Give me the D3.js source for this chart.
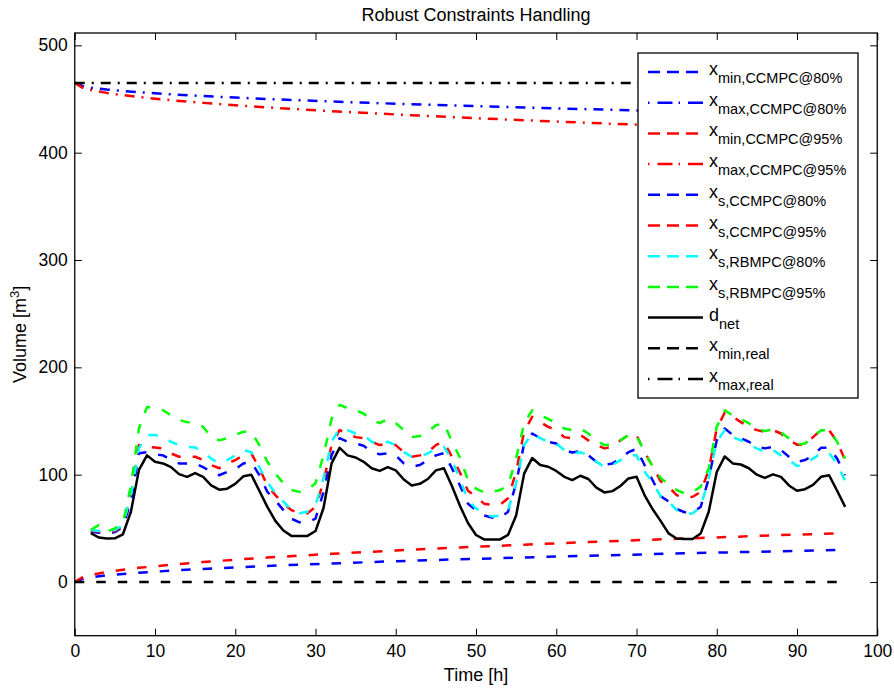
<!DOCTYPE html>
<html>
<head>
<meta charset="utf-8">
<script src="https://cdnjs.cloudflare.com/ajax/libs/d3/7.8.5/d3.min.js"></script>
<style>
body { margin: 0; background: #fff; }
svg text { font-family: "Liberation Sans", Arial, Helvetica, sans-serif; fill: #000; }
.tick line { stroke: #000; stroke-width: 1; }
</style>
</head>
<body>
<div id="chart"></div>
<script>

//Data

// hourly samples of the simulated trajectories
var hours = d3.range(2, 97);

var dNet = [45.5, 41.5, 40.5, 40.7, 44.5, 65.5, 104.5, 118, 112, 110.5, 107, 100.5,
  98, 101.5, 98, 90, 86, 87, 91.5, 98.5, 100, 85, 70, 57,
  48, 43, 43, 43, 47.5, 69, 110.5, 125, 118, 116, 112, 106,
  103.5, 107, 104, 95.5, 90, 91.5, 96, 104, 106, 89.5, 71, 55,
  43.8, 39.7, 39.7, 39.7, 44, 62, 101, 115.5, 109, 107.4, 103.5, 98,
  95, 99, 96, 88, 83.5, 84.7, 89.5, 96.5, 98, 81, 68, 57,
  45.3, 40.5, 40, 40, 45.3, 65.5, 102.5, 117, 110.5, 109.5, 106, 100,
  97, 100.3, 98, 90, 85, 86.5, 90.5, 98, 99.5, 85, 70];

var xsRB95 = [48.7, 53, 47, 50, 54.6, 90, 143, 163, 162, 160, 155.5, 151,
  149, 148, 144.6, 135, 132, 134, 137, 140, 140, 127.6, 112, 101,
  92, 85.7, 84, 85.7, 92, 118, 152, 165, 162, 160, 157, 151,
  148, 152, 148, 141.5, 135, 136, 140, 146, 148, 130.7, 116, 95,
  87, 83.5, 84, 85.7, 90, 115, 148, 160, 155.5, 152, 148, 143,
  141.5, 143, 138.4, 132, 127.6, 127.6, 132, 137, 137, 121, 108, 97,
  91, 85.7, 82.6, 84, 88.8, 105.8, 144.6, 160, 155, 151.8, 148, 143,
  140.6, 142.5, 139.4, 133.8, 128, 129, 135, 141.5, 141.5, 130.7, 115];

var xsCC95 = [47.5, 47, 46.5, 47.5, 53, 81, 127.6, 126, 125.4, 124.5, 119.8, 116.7,
  116.7, 116.7, 113.6, 109, 106, 110.5, 113.6, 118, 119.8, 106, 90, 81,
  73, 67, 64, 64, 70, 93.4, 127.6, 141.5, 138.4, 135, 134, 130.7,
  127.6, 129, 127.6, 121, 116.7, 118, 121, 127.6, 130.7, 116.7, 102, 85,
  79.5, 73, 72, 72, 78, 102.7, 140, 154, 149, 144.6, 141.5, 135,
  134, 137, 132, 127.6, 124.5, 126, 132, 137, 137, 121, 108, 94,
  88.8, 81, 78.5, 79.5, 84, 104.3, 143, 158, 154, 149, 144.6, 141.5,
  140, 141.5, 138.4, 132, 128, 128, 135, 141.5, 141.5, 130.7, 113.6];

var xsRB80 = [48.4, 47.5, 47.5, 48.5, 53, 81, 124.5, 137, 137, 135, 130.6, 127.6,
  126, 125.4, 121, 115, 110.5, 113.6, 118, 123, 121, 107, 93, 83,
  75, 67, 64, 65.5, 71.7, 96.5, 130.7, 143, 141.5, 138.4, 137, 130.7,
  127.6, 130.7, 127.6, 121, 116.7, 116.7, 119.8, 124.5, 126, 113.6, 96, 76,
  68.6, 64, 61, 62, 67, 92, 127.6, 138.4, 134, 130.7, 129, 123,
  119.8, 121, 118, 112, 107.4, 109, 113.6, 118, 118, 102.7, 93, 80,
  75, 67, 63, 64, 70, 96.5, 130.7, 141.5, 135, 132, 128, 124.5,
  121, 123, 118, 113.6, 108, 109.6, 115, 120, 120, 110.5, 94];

var xsCC80 = [47, 46, 45, 46.5, 51.5, 75, 120, 121, 119, 118, 113.6, 110.5,
  110.5, 110.5, 107, 102.6, 99.5, 102.6, 105, 110.5, 112, 99.5, 84, 76,
  67, 59, 55.6, 55.6, 59, 84, 118, 134, 130.7, 129, 127, 121,
  119, 120, 118, 110.5, 107.4, 109, 113.6, 118, 120, 106, 90, 73,
  67, 62, 60, 60, 65.5, 92, 129, 138.4, 134, 130.7, 129, 123,
  120.7, 122, 118, 112, 109, 110.5, 115, 121, 124, 109, 95, 80,
  75, 68, 65, 65, 70, 96.5, 132, 143, 137, 134, 130.7, 126,
  124.5, 126, 123, 116.7, 112, 113.6, 118, 125, 125, 115, 99.6];

// constraint bounds, sampled more sparsely
var boundHours = [0, 1, 2, 4, 6, 8, 12, 16, 20, 24, 32, 40, 48, 56, 64, 72, 80, 88, 96];
var xMinCC80 = [0, 3, 4.5, 6.2, 7.5, 8.7, 10.6, 12.2, 13.7, 15, 17.3, 19.4, 21.2, 22.9, 24.5, 26, 27.4, 28.7, 30];
var xMaxCC80 = [465, 462, 460.5, 458.8, 457.5, 456.3, 454.4, 452.8, 451.3, 450, 447.7, 445.6, 443.8, 442.1, 440.5, 439, 437.6, 436.3, 435];
var xMinCC95 = [0, 4.6, 6.6, 9.3, 11.4, 13.2, 16.1, 18.6, 20.8, 22.8, 26.3, 29.4, 32.2, 34.8, 37.2, 39.5, 41.6, 43.7, 45.6];
var xMaxCC95 = [465, 460.4, 458.4, 455.7, 453.6, 451.8, 448.9, 446.4, 444.2, 442.2, 438.7, 435.6, 432.8, 430.2, 427.8, 425.5, 423.4, 421.3, 419.4];
var realHours = [0, 96];
var xMinReal = [0, 0];
var xMaxReal = [465, 465];

var xTicks = [0, 10, 20, 30, 40, 50, 60, 70, 80, 90, 100];
var yTicks = [0, 100, 200, 300, 400, 500];

//Layout
var width = 894, height = 689;
var plot = {left: 74.75, right: 877.25, top: 33, bottom: 635.7};

var svg = d3.select("#chart").append("svg")
    .attr("width", width)
    .attr("height", height);

var x = d3.scaleLinear().domain([0, 100]).range([plot.left, plot.right]);
var y = d3.scaleLinear().domain([-50, 511.5]).range([plot.bottom, plot.top]);

var dashed = "9.5,12";
var dashdot = "10,7,2,7";

function pairs(xs, ys) {
  return xs.map(function(t, i) { return [t, ys[i]]; });
}

// legend order = drawing order
var series = [
  {sub: "min,CCMPC@80%", main: "x", color: "#0000ff", dash: dashed, pts: pairs(boundHours, xMinCC80)},
  {sub: "max,CCMPC@80%", main: "x", color: "#0000ff", dash: dashdot, pts: pairs(boundHours, xMaxCC80)},
  {sub: "min,CCMPC@95%", main: "x", color: "#ff0000", dash: dashed, pts: pairs(boundHours, xMinCC95)},
  {sub: "max,CCMPC@95%", main: "x", color: "#ff0000", dash: dashdot, pts: pairs(boundHours, xMaxCC95)},
  {sub: "s,CCMPC@80%", main: "x", color: "#0000ff", dash: dashed, pts: pairs(hours, xsCC80)},
  {sub: "s,CCMPC@95%", main: "x", color: "#ff0000", dash: dashed, pts: pairs(hours, xsCC95)},
  {sub: "s,RBMPC@80%", main: "x", color: "#00ffff", dash: dashed, pts: pairs(hours, xsRB80)},
  {sub: "s,RBMPC@95%", main: "x", color: "#00ff00", dash: dashed, pts: pairs(hours, xsRB95)},
  {sub: "net", main: "d", color: "#000000", dash: null, pts: pairs(hours, dNet)},
  {sub: "min,real", main: "x", color: "#000000", dash: dashed, pts: pairs(realHours, xMinReal)},
  {sub: "max,real", main: "x", color: "#000000", dash: dashdot, pts: pairs(realHours, xMaxReal)}
];

var line = d3.line()
    .x(function(d) { return x(d[0]); })
    .y(function(d) { return y(d[1]); });

svg.append("defs").append("clipPath").attr("id", "clip")
  .append("rect")
    .attr("x", plot.left).attr("y", plot.top)
    .attr("width", plot.right - plot.left)
    .attr("height", plot.bottom - plot.top);

var lines = svg.append("g").attr("clip-path", "url(#clip)");
series.forEach(function(s) {
  lines.append("path")
      .attr("d", line(s.pts))
      .attr("fill", "none")
      .attr("stroke", s.color)
      .attr("stroke-width", 2.5)
      .attr("stroke-dasharray", s.dash)
      .attr("stroke-linejoin", "round");
});

//Axes, ticks pointing inwards on all four sides
var fontSize = 17.5;
svg.append("g")
    .attr("transform", "translate(0," + plot.bottom + ")")
    .call(d3.axisBottom(x).tickValues(xTicks).tickSize(-7).tickPadding(9))
    .call(function(g) { g.select(".domain").remove(); })
    .selectAll("text").style("font-size", fontSize + "px");
svg.append("g")
    .attr("transform", "translate(0," + plot.top + ")")
    .call(d3.axisTop(x).tickValues(xTicks).tickSize(-7).tickFormat(""))
    .call(function(g) { g.select(".domain").remove(); });
svg.append("g")
    .attr("transform", "translate(" + plot.left + ",0)")
    .call(d3.axisLeft(y).tickValues(yTicks).tickSize(-7).tickPadding(7))
    .call(function(g) { g.select(".domain").remove(); })
    .selectAll("text").style("font-size", fontSize + "px");
svg.append("g")
    .attr("transform", "translate(" + plot.right + ",0)")
    .call(d3.axisRight(y).tickValues(yTicks).tickSize(-7).tickFormat(""))
    .call(function(g) { g.select(".domain").remove(); });

svg.append("rect")
    .attr("x", plot.left).attr("y", plot.top)
    .attr("width", plot.right - plot.left)
    .attr("height", plot.bottom - plot.top)
    .attr("fill", "none")
    .attr("stroke", "#000")
    .attr("stroke-width", 1.3);

//Titles
svg.append("text")
    .attr("x", (plot.left + plot.right) / 2).attr("y", 21)
    .attr("text-anchor", "middle")
    .style("font-size", "18px")
    .text("Robust Constraints Handling");
svg.append("text")
    .attr("x", (plot.left + plot.right) / 2).attr("y", 681)
    .attr("text-anchor", "middle")
    .style("font-size", "18px")
    .text("Time [h]");
var ylab = svg.append("text")
    .attr("transform", "translate(26," + (plot.top + plot.bottom) / 2 + ") rotate(-90)")
    .attr("text-anchor", "middle")
    .style("font-size", "18px");
ylab.append("tspan").text("Volume [m");
ylab.append("tspan").attr("dy", -7).style("font-size", "13px").text("3");
ylab.append("tspan").attr("dy", 7).text("]");

//Legend
var legend = svg.append("g");
legend.append("rect")
    .attr("x", 638).attr("y", 53)
    .attr("width", 220).attr("height", 345)
    .attr("fill", "#fff")
    .attr("stroke", "#000")
    .attr("stroke-width", 1.3);

series.forEach(function(s, i) {
  var ly = 72 + i * 30.7;
  legend.append("line")
      .attr("x1", 648).attr("x2", 703)
      .attr("y1", ly).attr("y2", ly)
      .attr("stroke", s.color)
      .attr("stroke-width", 2.5)
      .attr("stroke-dasharray", s.dash == dashed ? "12,7" : (s.dash == dashdot ? "1.5,8,15,6" : null));
  var t = legend.append("text")
      .attr("x", 709).attr("y", ly + 3)
      .style("font-size", "18px");
  t.append("tspan").text(s.main);
  t.append("tspan").attr("dy", 8).style("font-size", "14.5px").text(s.sub);
});

</script>
</body>
</html>
